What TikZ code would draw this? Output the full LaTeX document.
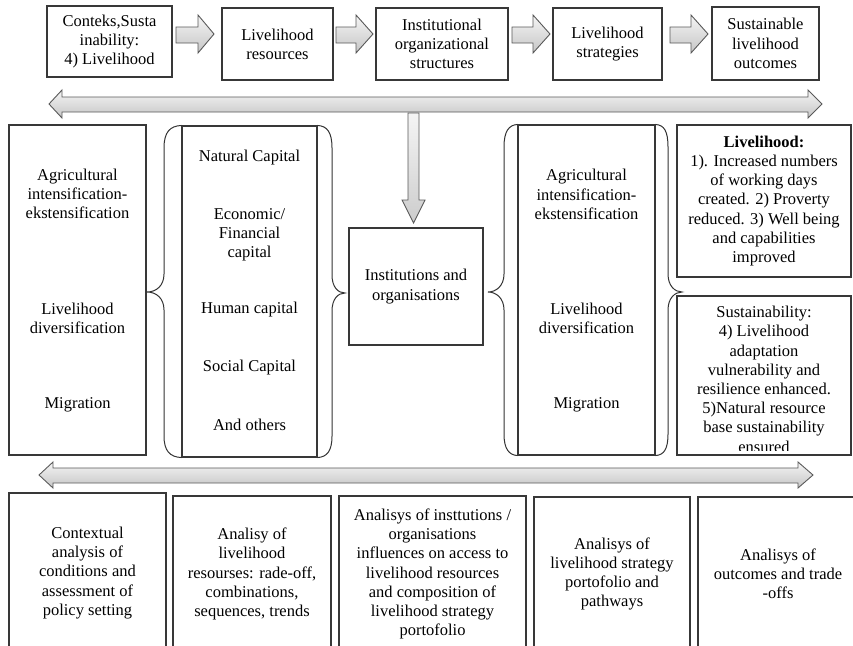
\documentclass[tikz,border=0pt]{standalone}
\usepackage{fontspec}
\setmainfont{Liberation Serif}
\usetikzlibrary{positioning}

\begin{document}
\begin{tikzpicture}[x=1pt,y=-1pt,line join=miter,
  box/.style={draw=black!78,line width=1.1pt,inner sep=0pt,align=center,
    font=\fontsize{16.5}{19.2}\selectfont},
  txt/.style={inner sep=0pt,align=center,font=\fontsize{16.5}{19.2}\selectfont},
  fat/.style={draw=black!65,line width=0.9pt,top color=gray!8,bottom color=gray!45},
  brace/.style={draw=black!80,line width=1pt},
]
%
  \useasboundingbox (0,0) rectangle (853,645);
  \clip (0,0) rectangle (853,645);
  % top row
  \node (ctx) at (109.5,41.5) [box,minimum width=125,minimum height=71] {Conteks,Susta\\inability:\\4) Livelihood};
  \node (res) at (277.5,44) [box,minimum width=111,minimum height=72] {Livelihood\\resources};
  \node (ios) at (442,44) [box,minimum width=132,minimum height=72] {Institutional\\organizational\\structures};
  \node (str) at (607.5,44) [box,minimum width=109,minimum height=72] {Livelihood\\strategies};
  \node (out) at (765.5,43.5) [box,minimum width=107,minimum height=73] {Sustainable\\livelihood\\outcomes};
  \draw [fat] (176,27) -- (198,27) -- (198,15) -- (214,34) -- (198,53) -- (198,43) -- (176,43) -- cycle;
  \draw [fat] (336,27) -- (356,27) -- (356,15) -- (373,34) -- (356,53) -- (356,43) -- (336,43) -- cycle;
  \draw [fat] (512,27) -- (533,27) -- (533,15) -- (550,34) -- (533,53) -- (533,43) -- (512,43) -- cycle;
  \draw [fat] (670,27) -- (691,27) -- (691,15) -- (708,34) -- (691,53) -- (691,43) -- (670,43) -- cycle;
  % upper double arrow and the arrow down
  \draw [fat] (49,104) -- (62,90) -- (62,97) -- (808,97) -- (808,90) -- (822,104) -- (808,118) -- (808,112) -- (62,112) -- (62,118) -- cycle;
  \draw [fat,top color=gray!8,bottom color=gray!40] (408,113) -- (419,113) -- (419,200) -- (425,200) -- (413.5,223) -- (402,200) -- (408,200) -- cycle;
  % middle part
  \node (lft) at (77.5,290) [box,minimum width=137,minimum height=330] {};
  \node (lagr) at (77.5,194) [txt] {Agricultural\\intensification-\\ekstensification};
  \node (ldiv) at (77.5,318.5) [txt] {Livelihood\\diversification};
  \node (lmig) at (77.5,405) [txt] {Migration};
  \node (cap) at (249.5,291.5) [box,minimum width=135,minimum height=331] {};
  \node (ncap) at (249.5,158) [txt] {Natural Capital};
  \node (ecap) at (249.5,234.5) [txt] {Economic/\\Financial\\capital};
  \node (hcap) at (249.5,310) [txt] {Human capital};
  \node (scap) at (249.5,368) [txt] {Social Capital};
  \node (ocap) at (249.5,425) [txt] {And others};
  \draw [brace] (cap.north west) .. controls (170,126) and (164,132) .. (164,148) -- (164,274) .. controls (164,286) and (156,292) .. (147,292) .. controls (156,292) and (164,298) .. (164,310) -- (164,436) .. controls (164,451) and (170,457) .. (cap.south west);
  \draw [brace] (cap.north east) .. controls (327,126) and (332,132) .. (332,148) -- (332,275) .. controls (332,287) and (338,293) .. (345,293) .. controls (338,293) and (332,299) .. (332,311) -- (332,436) .. controls (332,451) and (327,457) .. (cap.south east);
  \node (ins) at (416,286.5) [box,minimum width=134,minimum height=117] {Institutions and\\organisations};
  \node (rgt) at (586.5,290) [box,minimum width=137,minimum height=330] {};
  \node (ragr) at (586.5,194.5) [txt] {Agricultural\\intensification-\\ekstensification};
  \node (rdiv) at (586.5,318.5) [txt] {Livelihood\\diversification};
  \node (rmig) at (586.5,405) [txt] {Migration};
  \draw [brace] (rgt.north west) .. controls (509,125) and (504,131) .. (504,147) -- (504,274) .. controls (504,286) and (496,292) .. (488,292) .. controls (496,292) and (504,298) .. (504,310) -- (504,434) .. controls (504,449) and (509,455) .. (rgt.south west);
  \draw [brace] (rgt.north east) .. controls (664,125) and (668,131) .. (668,147) -- (668,274) .. controls (668,286) and (675,292) .. (682,292) .. controls (675,292) and (668,298) .. (668,310) -- (668,434) .. controls (668,449) and (664,455) .. (rgt.south east);
  \node (lvh) at (764,201) [box,minimum width=174,minimum height=152] {\textbf{Livelihood:}\\1). Increased numbers\\of working days\\created. 2) Proverty\\reduced. 3) Well being\\and capabilities\\improved};
  \node (sus) at (764,375.5) [box,minimum width=174,minimum height=159] {};
  \begin{scope}
    \clip (677,296) rectangle (851,450);
    \node (sust) at (764,306) [txt,anchor=north] {Sustainability:\\4) Livelihood\\adaptation\\vulnerability and\\resilience enhanced.\\5)Natural resource\\base sustainability\\ensured};
  \end{scope}
  % lower double arrow
  \draw [fat] (39,475) -- (53,462) -- (53,468) -- (798,468) -- (798,462) -- (813,475) -- (798,488) -- (798,483) -- (53,483) -- (53,488) -- cycle;
  % bottom row
  \node (ctxa) at (87.5,573) [box,minimum width=157,minimum height=160] {Contextual\\analysis of\\conditions and\\assessment of\\policy setting};
  \node (resa) at (252,574) [box,minimum width=158,minimum height=156] {Analisy of\\livelihood\\resourses: rade-off,\\combinations,\\sequences, trends};
  \node (iosa) at (432.5,574) [box,minimum width=187,minimum height=156] {Analisys of insttutions /\\organisations\\influences on access to\\livelihood resources\\and composition of\\livelihood strategy\\portofolio};
  \node (stra) at (612,574) [box,minimum width=156,minimum height=154] {Analisys of\\livelihood strategy\\portofolio and\\pathways};
  \node (outa) at (778,574) [box,minimum width=160,minimum height=154] {Analisys of\\outcomes and trade\\-offs};
%
\end{tikzpicture}
\end{document}
